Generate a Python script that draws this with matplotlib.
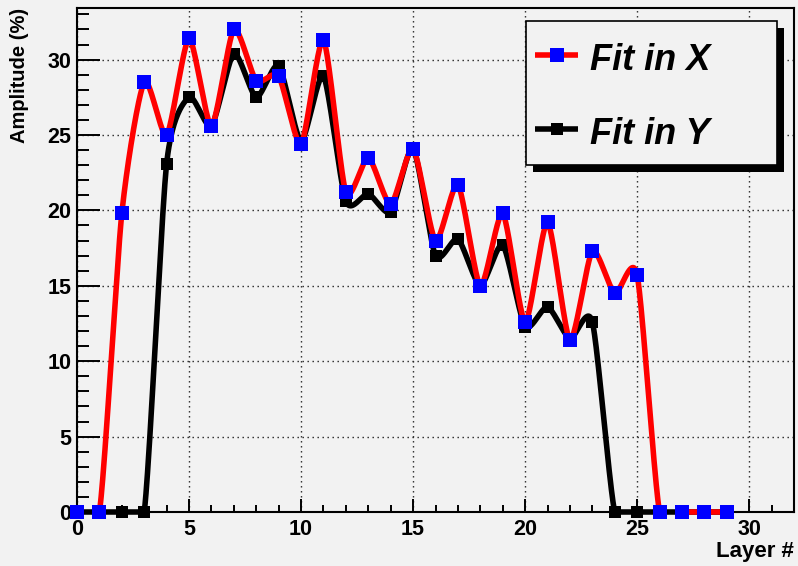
import numpy as np
import matplotlib
matplotlib.use("Agg")
import matplotlib.pyplot as plt
from matplotlib.patches import Rectangle
from matplotlib.lines import Line2D

# Layer index and fitted amplitudes (%)
layers = np.arange(30)
fit_x = [0.0, 0.0, 19.8, 28.5, 25.0, 31.4, 25.6, 32.0, 28.6, 28.9,
         24.4, 31.3, 21.2, 23.5, 20.4, 24.1, 18.0, 21.7, 15.0, 19.8,
         12.6, 19.2, 11.4, 17.3, 14.5, 15.7, 0.0, 0.0, 0.0, 0.0]
fit_y = [0.0, 0.0, 0.0, 0.0, 23.1, 27.5, 25.6, 30.4, 27.5, 29.6,
         24.6, 28.9, 20.6, 21.1, 19.9, 24.1, 17.0, 18.1, 15.0, 17.7,
         12.3, 13.6, 11.5, 12.6, 0.0, 0.0, 0.0, 0.0, 0.0, 0.0]
series_labels = ["Fit in X", "Fit in Y"]
x_title = "Layer #"
y_title = "Amplitude (%)"

BG = "#f2f2f2"
FONT = "Liberation Sans"
XMAX, YMAX = 32, 504 / 15.08
# screen scale (pixels per data unit) used to smooth the curves in display space
SX, SY = 717 / XMAX, 504 / YMAX


def smooth(x, y, k=0.35, n=40):
    """Parametric cardinal spline through (x, y), built in screen units."""
    p = np.column_stack([np.asarray(x, float) * SX, np.asarray(y, float) * SY])
    ext = np.vstack([2 * p[0] - p[1], p, 2 * p[-1] - p[-2]])
    m = k * (ext[2:] - ext[:-2])
    t = np.linspace(0, 1, n, endpoint=False)[:, None]
    h00 = 2 * t**3 - 3 * t**2 + 1
    h10 = t**3 - 2 * t**2 + t
    h01 = -2 * t**3 + 3 * t**2
    h11 = t**3 - t**2
    segs = [h00 * p[i] + h10 * m[i] + h01 * p[i + 1] + h11 * m[i + 1]
            for i in range(len(p) - 1)]
    segs.append(p[-1:])
    c = np.vstack(segs)
    return c[:, 0] / SX, c[:, 1] / SY


fig = plt.figure(figsize=(7.98, 5.66), dpi=100, facecolor=BG)
ax = fig.add_axes([77 / 798, 1 - 512 / 566, 717 / 798, 504 / 566])
ax.set_facecolor(BG)
ax.set_xlim(0, XMAX)
ax.set_ylim(0, YMAX)

# Y fit: curve below, then its markers
cx, cy = smooth(layers, fit_y)
cy = np.maximum(cy, 0.0)
ax.plot(cx, cy, color="black", lw=4.0, clip_on=False, zorder=3,
        solid_capstyle="butt", solid_joinstyle="round")
ax.plot(layers, fit_y, ls="none", marker="s", ms=8.6, mfc="black",
        mec="black", mew=0, clip_on=False, zorder=4)

# X fit on top; the part of the curve dipping under zero is clipped away
cx, cy = smooth(layers, fit_x)
cy = np.where(cy < -0.05, np.nan, cy)
ax.plot(cx, cy, color="red", lw=4.0, clip_on=False, zorder=5,
        solid_capstyle="butt", solid_joinstyle="round")
ax.plot(layers, fit_x, ls="none", marker="s", ms=9.4, mfc="#0000ff",
        mec="#0000ff", mew=0, clip_on=False, zorder=6)

# Axes styling
ax.set_xticks(np.arange(0, 31, 5))
ax.set_xticks(np.arange(0, 33, 1), minor=True)
ax.set_yticks(np.arange(0, 31, 5))
ax.set_yticks(np.arange(0, 34, 1), minor=True)
ax.grid(True, which="major", color="#222222", lw=1.0, ls=(0, (1, 2.6)))
ax.set_axisbelow(True)
for s in ax.spines.values():
    s.set_linewidth(1.5)
    s.set_zorder(2)
ax.tick_params(axis="both", which="both", direction="in", width=1.4,
               colors="black", top=False, right=False)
ax.tick_params(axis="x", which="major", length=9.4, pad=5)
ax.tick_params(axis="x", which="minor", length=5)
ax.tick_params(axis="y", which="major", length=16.5, pad=4)
ax.tick_params(axis="y", which="minor", length=8.6)
for lab in ax.get_xticklabels() + ax.get_yticklabels():
    lab.set_fontfamily(FONT)
    lab.set_fontweight("bold")
    lab.set_fontsize(15.5)

# Axis titles, ROOT style: anchored to the frame ends
fig.text(794 / 798, 1 - 552 / 566, x_title, ha="right", va="center",
         fontsize=16, fontweight="bold", fontfamily=FONT)
fig.text(20 / 798, 1 - 8 / 566, y_title, ha="center", va="top",
         rotation=90, fontsize=14.5, fontweight="bold", fontfamily=FONT)

# Legend box with drop shadow, in pixel coordinates
ov = fig.add_axes([0, 0, 1, 1], facecolor="none")
ov.set_xlim(0, 798)
ov.set_ylim(566, 0)
ov.axis("off")
ov.add_patch(Rectangle((533, 28), 251, 144, facecolor="black",
                       edgecolor="none", zorder=10))
ov.add_patch(Rectangle((526, 21), 251, 144, facecolor=BG,
                       edgecolor="black", lw=1.2, zorder=11))
entries = [("red", "#0000ff", 9.4, 55, 60), ("black", "black", 8.6, 129, 134)]
for label, (lc, mc, ms, ly, ty) in zip(series_labels, entries):
    ov.add_line(Line2D([535, 578], [ly, ly], color=lc, lw=4.0,
                       solid_capstyle="butt", zorder=12))
    ov.add_line(Line2D([557], [ly], ls="none", marker="s", ms=ms,
                       mfc=mc, mec=mc, mew=0, zorder=13))
    ov.text(590, ty, label, ha="left", va="center", fontsize=26,
            fontweight="bold", fontstyle="italic", fontfamily=FONT,
            zorder=13)

fig.savefig("out.png", dpi=100, facecolor=BG)
